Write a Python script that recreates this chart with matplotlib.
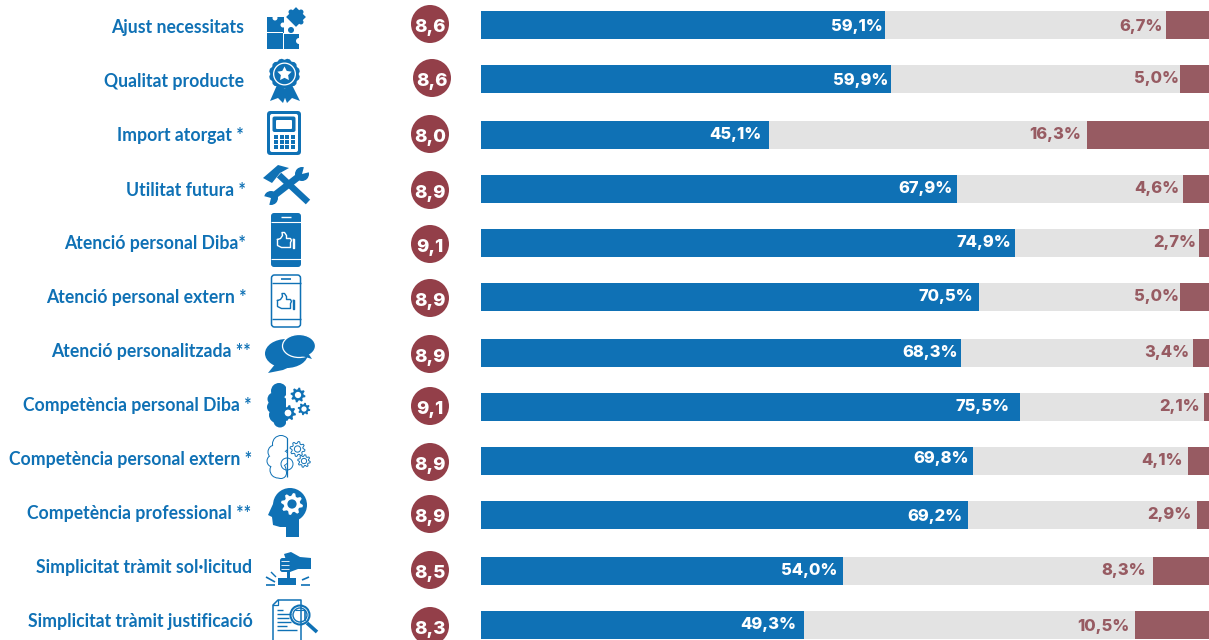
import numpy as np
import matplotlib
matplotlib.use("Agg")
import matplotlib.pyplot as plt
from matplotlib.patches import Circle, Ellipse, FancyBboxPatch, Polygon, Rectangle

categories = ["Ajust necessitats", "Qualitat producte", "Import atorgat *", "Utilitat futura *",
              "Atenció personal Diba*", "Atenció personal extern *", "Atenció personalitzada **",
              "Competència personal Diba *", "Competència personal extern *", "Competència professional **",
              "Simplicitat tràmit sol·licitud", "Simplicitat tràmit justificació"]
high_pct = [59.1, 59.9, 45.1, 67.9, 74.9, 70.5, 68.3, 75.5, 69.8, 69.2, 54.0, 49.3]
low_pct = [6.7, 5.0, 16.3, 4.6, 2.7, 5.0, 3.4, 2.1, 4.1, 2.9, 8.3, 10.5]
scores = [8.6, 8.6, 8.0, 8.9, 9.1, 8.9, 8.9, 9.1, 8.9, 8.9, 8.5, 8.3]

BLUE, GREY, ROSE, WINE = "#0F71B5", "#E3E3E3", "#975B62", "#933F49"
WHITE = "white"
W, H = 1209, 640
bar_y = [25, 79, 135, 189, 243, 297, 353, 407, 461, 515, 571, 625]
label_y = [28, 82, 136, 190, 244, 298, 352, 406, 460, 514, 568, 622]
label_right = [244, 244, 244, 246, 246, 247, 251, 252, 252, 251, 252, 253]
circle_x = [430, 432, 430, 430, 430, 430, 430, 430, 430, 430, 430, 430]
circle_y = [24, 78, 134, 190, 244, 298, 354, 406, 462, 514, 570, 626]
hi_right = [883, 888, 762, 953, 1011, 973, 958, 1010, 969, 962, 837, 796]
hi_y = [26, 80, 134, 188, 242, 296, 352, 406, 458, 516, 570, 624]
lo_right = [1163, 1179, 1081, 1179, 1196, 1179, 1189, 1200, 1183, 1191, 1146, 1130]
lo_y = [26, 78, 134, 188, 242, 296, 352, 406, 460, 514, 570, 626]
X0, X1 = 10.2, 98.4
OFFS = 1.5

fig = plt.figure(figsize=(W / 100, H / 100), dpi=100)
ax = fig.add_axes([481 / W, 0, 728 / W, 1])
ax.set_xlim(X0, X1); ax.set_ylim(H, 0); ax.axis("off")
ov = fig.add_axes([0, 0, 1, 1])
ov.set_xlim(0, W); ov.set_ylim(H, 0); ov.axis("off"); ov.patch.set_alpha(0)

for y, hi, lo in zip(bar_y, high_pct, low_pct):
    ax.barh(y, X1 - X0, left=X0, height=28, color=GREY, linewidth=0)
    ax.barh(y, hi - X0, left=X0, height=28, color=BLUE, linewidth=0)
    ax.barh(y, lo - OFFS, left=X1 - (lo - OFFS), height=28, color=ROSE, linewidth=0)

VAL = dict(ha="right", va="center", family="Inter", weight="heavy", fontsize=11.9)
for hi, lo, xh, yh, xl, yl in zip(high_pct, low_pct, hi_right, hi_y, lo_right, lo_y):
    ov.text(xh, yh, f"{hi:.1f}%".replace(".", ","), color=WHITE, **VAL)
    ov.text(xl, yl, f"{lo:.1f}%".replace(".", ","), color=ROSE, **VAL)

for name, r, y in zip(categories, label_right, label_y):
    ov.text(r, y, name, ha="right", va="center", color=BLUE, family="Lato", weight="bold", fontsize=12.7)

for x, y, s in zip(circle_x, circle_y, scores):
    ov.add_patch(Circle((x, y), 19, color=WINE, lw=0))
    ov.text(x, y + 3, f"{s:.1f}".replace(".", ","), ha="center", va="center", color=WHITE,
            family="Inter", weight="heavy", fontsize=13.5)


def poly(pts, c=BLUE, **k):
    ov.add_patch(Polygon(pts, closed=True, facecolor=c, edgecolor="none", **k))

def rect(x0, y0, x1, y1, c=BLUE):
    ov.add_patch(Rectangle((x0, y0), x1 - x0, y1 - y0, facecolor=c, edgecolor="none"))

def circ(x, y, r, c=BLUE):
    ov.add_patch(Circle((x, y), r, facecolor=c, edgecolor="none"))

def ring(x, y, r, lw=1.0, c=BLUE, fc="none"):
    ov.add_patch(Circle((x, y), r, facecolor=fc, edgecolor=c, lw=lw))

def line(xs, ys, lw=1.0, c=BLUE):
    ov.plot(xs, ys, color=c, lw=lw, solid_capstyle="butt")

def rrect(x0, y0, x1, y1, rad, fc=BLUE, ec="none", lw=0.0):
    ov.add_patch(FancyBboxPatch((x0 + rad, y0 + rad), x1 - x0 - 2 * rad, y1 - y0 - 2 * rad,
                                boxstyle=f"round,pad={rad},rounding_size={rad}", facecolor=fc, edgecolor=ec, lw=lw))

def gear_pts(x, y, r, teeth=8):
    t = np.linspace(0, 2 * np.pi, teeth * 4, endpoint=False) + np.pi / (teeth * 4)
    rr = np.where(np.arange(teeth * 4) % 4 < 2, r, r * 0.74)
    return np.c_[x + rr * np.cos(t), y + rr * np.sin(t)]

def gear(x, y, r, fc=BLUE, hole=WHITE, hole_r=0.42):
    poly(gear_pts(x, y, r), fc)
    circ(x, y, r * hole_r, hole)

def gear_out(x, y, r):
    ov.add_patch(Polygon(gear_pts(x, y, r), closed=True, facecolor=WHITE, edgecolor=BLUE, lw=0.7))
    ring(x, y, r * 0.42, 0.7)

def thumb(cx, cy, filled):
    c = WHITE if filled else BLUE
    px = np.array([-8, -5, -3, -3.5, -1, 1, 1, 5, 6, 5, 5, -4, -8, -8]) + cx - 0.5
    py = np.array([-1, -2, -5, -8, -8, -5, -2, -2, 0, 2, 7, 7, 5, -1]) + cy
    ov.plot(px, py, color=c, lw=1.0)
    ov.plot([cx + 6.5, cx + 8, cx + 8, cx + 6.5, cx + 6.5], [cy - 2, cy - 2, cy + 7, cy + 7, cy - 2], color=c, lw=1.0)


def icon_puzzle():
    rect(267, 17, 299, 49)
    rect(283.5, 16, 300, 32.5, WHITE)
    circ(291, 30, 3)
    rect(283, 33, 299, 33.6, WHITE); rect(267, 32, 283, 32.6, WHITE)
    rect(283, 33, 283.6, 49, WHITE)
    circ(275, 18, 2.5, WHITE); circ(283, 25, 2.5, WHITE); circ(299, 41, 3, WHITE)
    t = np.deg2rad(45)
    sq = np.array([[-7, -7], [7, -7], [7, 7], [-7, 7]])
    rot = np.array([[np.cos(t), -np.sin(t)], [np.sin(t), np.cos(t)]])
    poly(sq @ rot.T + [296, 17])
    for dx, dy in [(-5, -5), (5, 5), (5, -5)]:
        circ(296 + dx, 17 + dy, 2.5)

def icon_ribbon():
    poly([(277, 85), (270, 101), (278, 98), (283, 103), (288, 90)])
    poly([(292, 85), (300, 101), (292, 98), (287, 103), (282, 90)])
    t = np.linspace(0, 2 * np.pi, 36, endpoint=False)
    rr = 15.5 - 1.3 * (np.arange(36) % 3 == 0)
    poly(np.c_[284.5 + rr * np.cos(t), 74 + rr * np.sin(t)])
    circ(284.5, 74, 11.5, WHITE); circ(284.5, 74, 10.2)
    t = np.linspace(-np.pi / 2, 1.5 * np.pi, 10, endpoint=False)
    rr = np.where(np.arange(10) % 2 == 0, 7.5, 3.8)
    poly(np.c_[284.5 + rr * np.cos(t), 74 + rr * np.sin(t)], WHITE)

def icon_calc():
    rrect(267, 111, 301, 155, 3.5)
    rrect(270, 114, 298, 152, 2, WHITE)
    rrect(272.5, 116.5, 295.5, 132, 2)
    rrect(276, 120, 292, 129, 1, WHITE)
    for r_ in range(3):
        for c_ in range(4):
            rect(274 + c_ * 5.5, 135 + r_ * 5.2, 278 + c_ * 5.5, 138.7 + r_ * 5.2)

def icon_tools():
    line([279, 308], [175, 202], 4.6)
    poly([(263, 178), (278, 165), (289, 168), (280, 173), (272, 183)])
    line([271, 302], [198, 174], 5.0)
    circ(271, 198, 7); circ(302, 174, 7)
    poly([(271, 198), (260, 195), (268, 210)], WHITE)
    poly([(302, 174), (305, 163), (314, 171)], WHITE)

def icon_phone(y0, y1, filled):
    if filled:
        rrect(271, y0, 301, y1, 3)
        line([271, 301], [y0 + 8.5, y0 + 8.5], 0.8, WHITE)
        line([271, 301], [y1 - 8, y1 - 8], 0.8, WHITE)
        line([281, 291], [y0 + 4, y0 + 4], 1.0, WHITE)
    else:
        rrect(271.5, y0, 300.5, y1, 3, WHITE, BLUE, 1.1)
        line([271.5, 300.5], [y0 + 8, y0 + 8])
        line([271.5, 300.5], [y1 - 8, y1 - 8])
        line([281, 291], [y0 + 3.5, y0 + 3.5], 1.2)
    thumb(286, (y0 + y1) / 2 + 0.5, filled)

def icon_speech():
    ov.add_patch(Ellipse((286.5, 353.5), 43, 29, facecolor=BLUE, edgecolor="none"))
    poly([(276, 363), (268, 373), (283, 370), (292, 366)])
    ov.add_patch(Ellipse((299, 346), 33, 23, facecolor=BLUE, edgecolor=WHITE, lw=0.9))
    poly([(302, 356), (312, 359), (308, 353)])

def lobes(items, outline):
    if outline:
        for x, y, r in items:
            circ(x, y, r + 0.5)
        for x, y, r in items:
            circ(x, y, r - 0.5, WHITE)
    else:
        for x, y, r in items:
            circ(x, y, r)

def icon_brain_filled():
    lobes([(279, 391, 8), (274, 399, 6.5), (273, 407, 6), (277, 415, 8), (280, 421, 6.5), (280, 404, 8)], False)
    rect(285.5, 380, 300, 430, WHITE)
    gear(298, 395, 7.5); gear(304, 409, 6.3)
    gear(288, 413, 8)

def icon_brain_out():
    lobes([(281, 444, 8.5), (275, 452, 7), (273, 461, 6), (278, 470, 8), (281, 473, 5.5), (281, 458, 8)], True)
    circ(281, 458, 7.5, WHITE)
    rect(287.5, 432, 300, 482, WHITE)
    line([286.8, 286.8], [438, 477], 0.9)
    gear_out(297.5, 449, 7.5); gear_out(304, 461, 6.3)
    ov.add_patch(Circle((287, 464), 6, facecolor="none", edgecolor=BLUE, lw=0.7))

def icon_head():
    circ(290, 505, 17)
    poly([(273, 504), (268, 515), (272, 517), (273, 525), (280, 527), (286, 527), (299, 537), (299, 515)])
    rect(286, 522, 299, 537)
    gear(292, 504, 11, WHITE, BLUE, 0.42)

def icon_stamp():
    rect(287, 570, 290, 579)
    rect(278, 578, 296, 585)
    rrect(280, 558, 291, 572, 2.5)
    poly([(284, 554), (291, 552), (300, 557), (311, 558), (311, 569), (298, 569), (290, 572)])
    for yy in [561, 565, 569]:
        line([281, 289], [yy, yy], 0.6, WHITE)
    line([266, 275], [584.5, 584.5], 1.2); line([301, 310], [584.5, 584.5], 1.2)
    line([266, 275], [577, 582], 1.2); line([302, 309], [580, 577], 1.2)
    line([271, 276], [572, 577], 1.0)

def icon_doc():
    ov.plot([273, 273, 278, 301, 301], [640, 605, 600, 600, 640], color=BLUE, lw=1.1)
    ov.plot([278, 278, 273], [600, 605, 605], color=BLUE, lw=0.9)
    for y, x1 in zip([610, 614, 618, 622, 626, 630], [283, 291, 289, 291, 287, 297]):
        line([277, x1], [y, y], 1.0)
    ring(300, 615, 9.5, 1.5, fc=WHITE); ring(300, 615, 7, 1.0)
    line([305, 305], [610, 621], 1.2); line([295, 305], [610, 610], 0.8)
    line([307, 317], [623, 632], 2.6)

for f in [icon_puzzle, icon_ribbon, icon_calc, icon_tools, icon_speech, icon_brain_filled,
          icon_brain_out, icon_head, icon_stamp, icon_doc]:
    f()
icon_phone(213, 267, True)
icon_phone(275, 327, False)

fig.savefig("out.png", dpi=100)
